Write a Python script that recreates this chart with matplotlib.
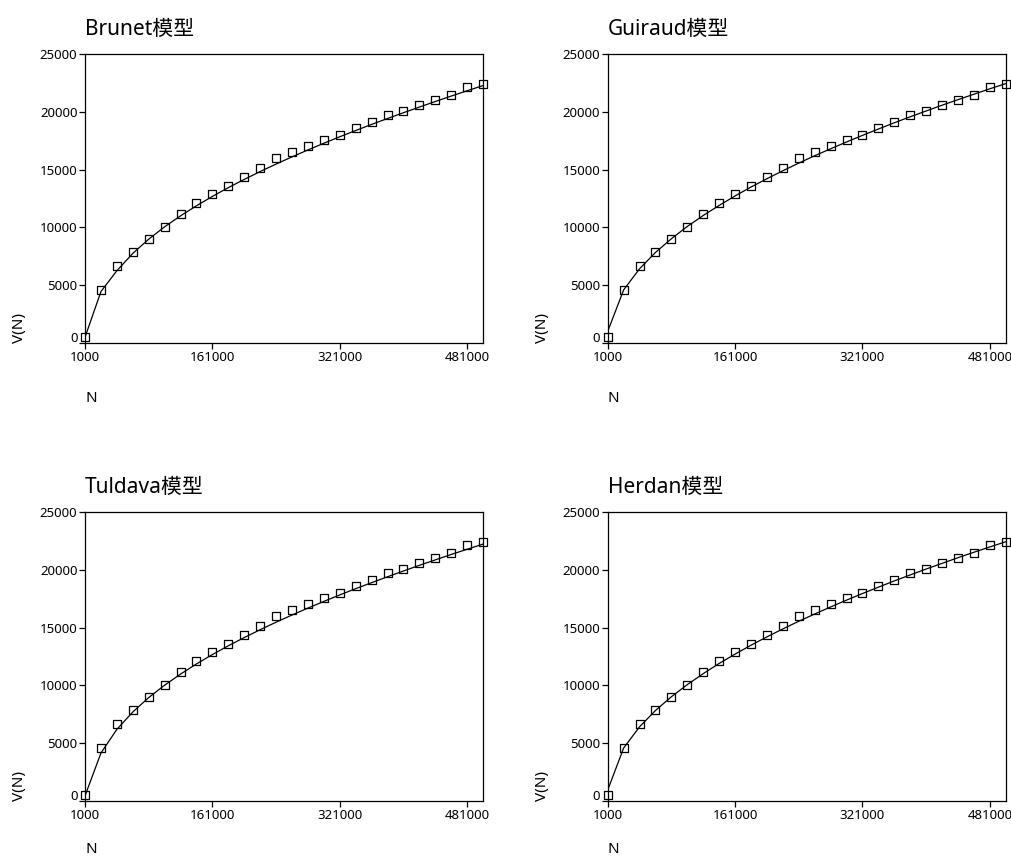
import matplotlib
matplotlib.use("Agg")
import matplotlib.pyplot as plt
from matplotlib.markers import MarkerStyle
from matplotlib.transforms import ScaledTranslation

plt.rcParams['font.family'] = ['Noto Sans', 'Noto Sans CJK SC', 'DejaVu Sans']

# N (tokens) and observed V(N) (types)
n_tokens = [1000, 21000, 41000, 61000, 81000, 101000, 121000, 141000, 161000,
            181000, 201000, 221000, 241000, 261000, 281000, 301000, 321000,
            341000, 361000, 381000, 401000, 421000, 441000, 461000, 481000, 501000]
v_observed = [500, 4600, 6700, 7900, 9000, 10050, 11180, 12130, 12870, 13620,
              14370, 15110, 15980, 16520, 17010, 17560, 18020, 18590, 19140,
              19710, 20090, 20550, 21010, 21490, 22160, 22440]

# fitted curves
fit_brunet = [500, 4450, 6250, 7750, 8980, 10050, 11000, 11870, 12680, 13440,
              14150, 14830, 15480, 16100, 16700, 17280, 17840, 18380, 18910,
              19420, 19920, 20410, 20890, 21360, 21820, 22270]
fit_guiraud = [1000, 4590, 6420, 7830, 9020, 10080, 11030, 11900, 12720, 13490,
               14210, 14900, 15560, 16200, 16800, 17390, 17960, 18510, 19050,
               19570, 20070, 20570, 21050, 21520, 21990, 22440]
fit_tuldava = [450, 4150, 6200, 7700, 8950, 10020, 10980, 11860, 12670, 13430,
               14140, 14820, 15470, 16090, 16690, 17270, 17830, 18370, 18890,
               19400, 19900, 20390, 20860, 21330, 21780, 22230]
fit_herdan = [950, 4580, 6420, 7830, 9020, 10070, 11020, 11900, 12710, 13480,
              14200, 14890, 15550, 16180, 16790, 17380, 17950, 18500, 19040,
              19560, 20070, 20560, 21050, 21520, 21980, 22430]

titles = ["Brunet模型", "Guiraud模型", "Tuldava模型", "Herdan模型"]
fits = [fit_brunet, fit_guiraud, fit_tuldava, fit_herdan]
x_ticks = [1000, 161000, 321000, 481000]
y_ticks = [0, 5000, 10000, 15000, 20000, 25000]

fig = plt.figure(figsize=(10.11, 8.6), dpi=100)
positions = [
    [0.0841, 0.6012, 0.3937, 0.336],
    [0.6011, 0.6012, 0.3937, 0.336],
    [0.0841, 0.0686, 0.3937, 0.336],
    [0.6011, 0.0686, 0.3937, 0.336],
]
n_pads = [19, 19, 14, 14]

sq = MarkerStyle('s', joinstyle='round')

for pos, title, fit, npad in zip(positions, titles, fits, n_pads):
    ax = fig.add_axes(pos)
    ax.plot(n_tokens, fit, color='black', lw=0.9, zorder=2)
    ax.plot(n_tokens, v_observed, linestyle='none', marker=sq, markersize=5.6,
            mfc='none', mec='black', mew=0.9, clip_on=False, zorder=3)
    ax.set_xlim(1000, 501000)
    ax.set_ylim(0, 25000)
    ax.set_xticks(x_ticks)
    ax.set_xticklabels([str(t) for t in x_ticks])
    ax.set_yticks(y_ticks)
    ax.set_yticklabels([str(t) for t in y_ticks])
    ax.tick_params(labelsize=9.5, length=4, width=0.9, pad=2, direction='out')
    ax.tick_params(axis='y', pad=1.5)
    for s in ax.spines.values():
        s.set_linewidth(0.9)
    # lift the "0" label like the original
    lab0 = ax.get_yticklabels()[0]
    lab0.set_transform(lab0.get_transform() + ScaledTranslation(0, 0.06, fig.dpi_scale_trans))
    ax.set_title(title, loc='left', fontsize=15, pad=14)
    ax.set_ylabel("V(N)", loc='bottom', fontsize=11, labelpad=9)
    ax.set_xlabel("N", loc='left', fontsize=11, labelpad=npad)

fig.savefig("out.png", dpi=100)
